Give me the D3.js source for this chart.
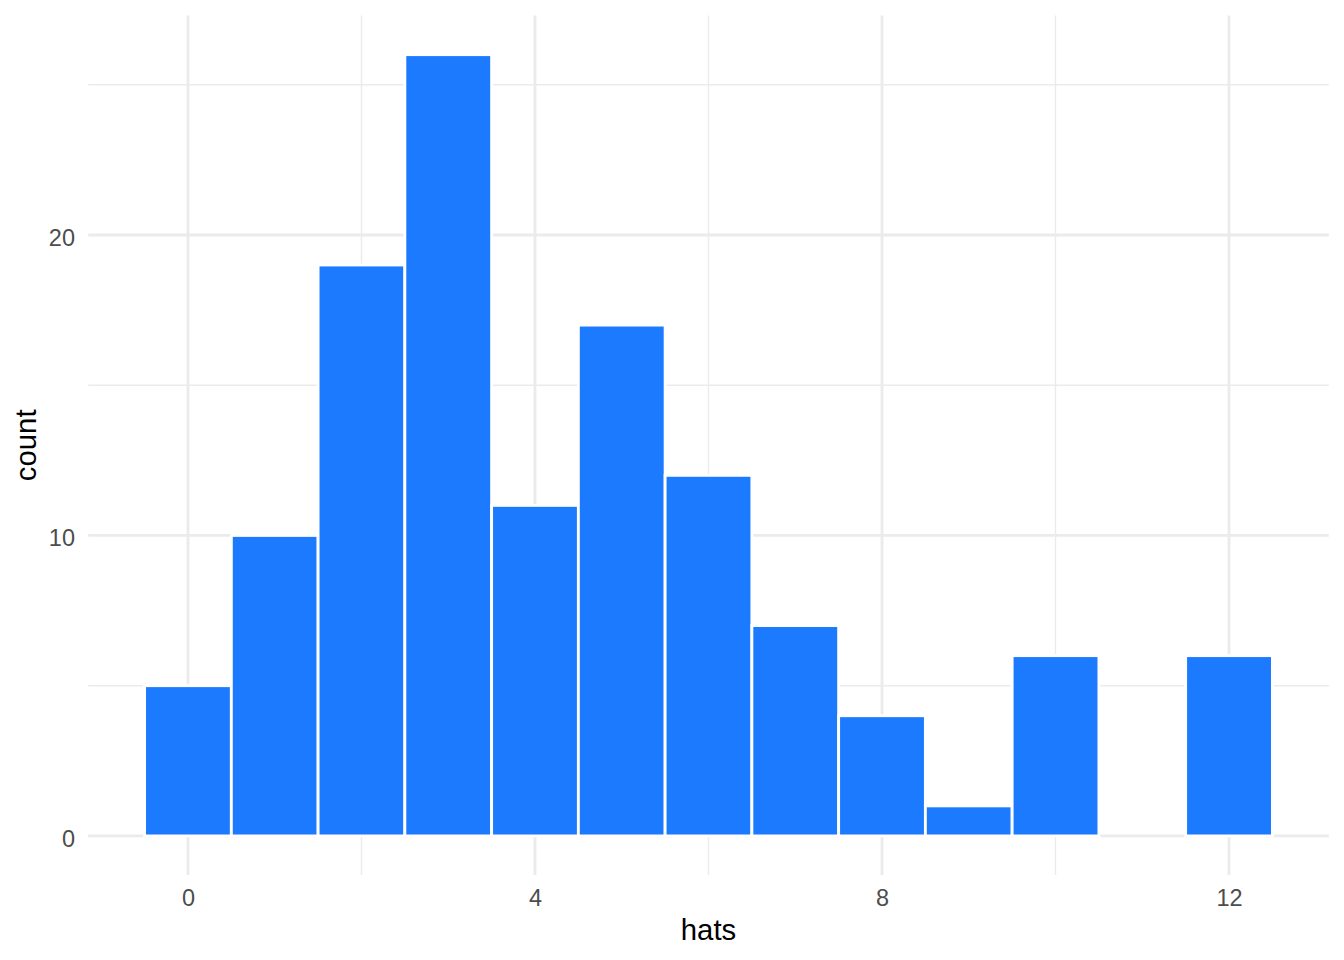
<!DOCTYPE html>
<html lang="en">
<head>
  <meta charset="UTF-8">
  <title>hats histogram</title>
  <script src="https://d3js.org/d3.v7.min.js"></script>
  <style>
    body { margin: 0; background: #fff; }
    text { font-family: "Liberation Sans", Arial, Helvetica, sans-serif; }
    .tick text { fill: #4d4d4d; font-size: 23.5px; }
    .grid-major { stroke: #ebebeb; stroke-width: 2.85px; }
    .grid-minor { stroke: #ebebeb; stroke-width: 1.42px; }
    .bar { fill: #1c7aff; stroke: #fff; stroke-width: 2.85px; }
    .axis-title { font-size: 29.3px; fill: #000; }
  </style>
</head>
<body>
  <div id="chart"></div>
  <script>
    // histogram bins (centre of each bin) and counts
    const hats = [0, 1, 2, 3, 4, 5, 6, 7, 8, 9, 10, 11, 12];
    const counts = [5, 10, 19, 26, 11, 17, 12, 7, 4, 1, 6, 0, 6];
    const binWidth = 1;

    const xTicks = [0, 4, 8, 12];
    const xMinor = [2, 6, 10];
    const yTicks = [0, 10, 20];
    const yMinor = [5, 15, 25];

    const W = 1344, H = 960;
    const margin = { top: 15.6, right: 15.2, bottom: 85, left: 88.2 };
    const width = W - margin.left - margin.right;
    const height = H - margin.top - margin.bottom;

    const svg = d3.select("#chart")
      .append("svg")
      .attr("width", W)
      .attr("height", H);

    const g = svg.append("g")
      .attr("transform", `translate(${margin.left}, ${margin.top})`);

    // ggplot-style 5% expansion
    const xLo = hats[0] - binWidth / 2, xHi = hats[hats.length - 1] + binWidth / 2;
    const xPad = (xHi - xLo) * 0.05;
    const x = d3.scaleLinear()
      .domain([xLo - xPad, xHi + xPad])
      .range([0, width]);

    const yMax = d3.max(counts);
    const y = d3.scaleLinear()
      .domain([-yMax * 0.05, yMax * 1.05])
      .range([height, 0]);

    // grid
    g.selectAll(".gx-minor").data(xMinor).enter().append("line")
      .attr("class", "grid-minor")
      .attr("x1", d => x(d)).attr("x2", d => x(d))
      .attr("y1", 0).attr("y2", height);
    g.selectAll(".gy-minor").data(yMinor).enter().append("line")
      .attr("class", "grid-minor")
      .attr("y1", d => y(d)).attr("y2", d => y(d))
      .attr("x1", 0).attr("x2", width);
    g.selectAll(".gx-major").data(xTicks).enter().append("line")
      .attr("class", "grid-major")
      .attr("x1", d => x(d)).attr("x2", d => x(d))
      .attr("y1", 0).attr("y2", height);
    g.selectAll(".gy-major").data(yTicks).enter().append("line")
      .attr("class", "grid-major")
      .attr("y1", d => y(d)).attr("y2", d => y(d))
      .attr("x1", 0).attr("x2", width);

    // bars
    const bins = hats.map((h, i) => ({ h, n: counts[i] }));
    g.selectAll(".bar").data(bins).enter().append("rect")
      .attr("class", "bar")
      .attr("x", d => x(d.h - binWidth / 2))
      .attr("width", d => x(d.h + binWidth / 2) - x(d.h - binWidth / 2))
      .attr("y", d => y(d.n))
      .attr("height", d => y(0) - y(d.n));

    // axes (labels only)
    const xAxis = g.append("g")
      .attr("transform", `translate(0, ${height})`)
      .call(d3.axisBottom(x).tickValues(xTicks).tickSize(0).tickPadding(14.8).tickFormat(d3.format("d")));
    xAxis.select(".domain").remove();

    const yAxis = g.append("g")
      .call(d3.axisLeft(y).tickValues(yTicks).tickSize(0).tickPadding(13.2).tickFormat(d3.format("d")));
    yAxis.select(".domain").remove();
    yAxis.selectAll(".tick text").attr("dy", "0.44em");

    svg.append("text")
      .attr("class", "axis-title")
      .attr("x", margin.left + width / 2)
      .attr("y", 940)
      .attr("text-anchor", "middle")
      .text("hats");

    svg.append("text")
      .attr("class", "axis-title")
      .attr("transform", `translate(36, ${margin.top + height / 2}) rotate(-90)`)
      .attr("text-anchor", "middle")
      .text("count");
  </script>
</body>
</html>
